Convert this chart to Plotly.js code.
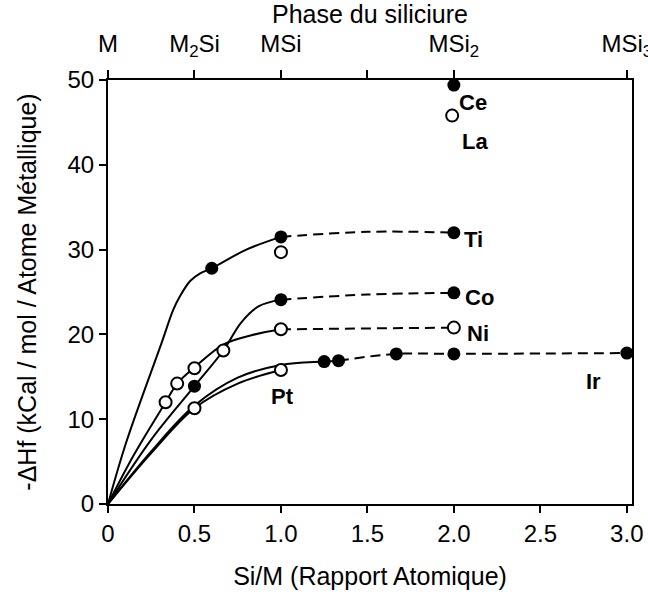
<!DOCTYPE html>
<html><head><meta charset="utf-8">
<script src="https://cdn.plot.ly/plotly-3.0.1.min.js"></script>
<style>html,body{margin:0;padding:0;background:#fff}#chart{width:648px;height:594px}</style>
</head><body><div id="chart"></div>
<script>
// ---- measured points ----
const tiX = [0.6, 1.0, 2.0];            const tiY = [27.8, 31.5, 32.0];
const tiOpenX = [1.0];                  const tiOpenY = [29.7];
const coX = [0.5, 1.0, 2.0];            const coY = [13.9, 24.1, 24.9];
const niX = [0.333, 0.4, 0.5, 0.667, 1.0, 2.0]; const niY = [12.0, 14.2, 16.0, 18.1, 20.6, 20.8];
const ptX = [0.5, 1.0];                 const ptY = [11.3, 15.8];
const irX = [1.25, 1.333, 1.667, 2.0, 3.0]; const irY = [16.8, 16.9, 17.7, 17.7, 17.8];
const ceX = [2.0];                      const ceY = [49.4];
const laX = [1.99];                     const laY = [45.8];

// ---- hand-drawn guide curves (vertices) ----
const tiCurveX = [0, 0.105, 0.31, 0.377, 0.416, 0.475, 0.533, 0.6, 0.8, 1.0];
const tiCurveY = [0, 7.25, 19.0, 22.9, 24.5, 26.3, 27.2, 27.8, 30.0, 31.5];
const coCurveX = [0, 0.25, 0.5, 0.667, 0.77, 0.87, 1.0];
const coCurveY = [0, 7.6, 13.9, 18.1, 21.4, 23.3, 24.1];
const niCurveX = [0, 0.15, 0.333, 0.4, 0.5, 0.667, 0.83, 1.0];
const niCurveY = [0, 5.8, 12.0, 14.2, 16.1, 18.8, 19.9, 20.6];
const ptCurveX = [0, 0.25, 0.5, 0.75, 1.0];
const ptCurveY = [0, 6.0, 11.3, 14.2, 15.8];
const irCurveX = [0, 0.25, 0.5, 0.75, 1.0, 1.25, 1.333];
const irCurveY = [0, 6.2, 11.6, 14.9, 16.4, 16.8, 16.9];

const tiDashX = [1.0, 1.5, 2.0];  const tiDashY = [31.5, 32.1, 32.0];
const coDashX = [1.0, 1.5, 2.0];  const coDashY = [24.1, 24.7, 24.9];
const niDashX = [1.0, 2.0];       const niDashY = [20.6, 20.8];
const irDashX = [1.333, 1.667, 2.0, 3.0]; const irDashY = [16.9, 17.7, 17.7, 17.8];

// ---- labels ----
const labelText = ['Ce', 'La', 'Ti', 'Co', 'Ni', 'Pt', 'Ir'];
const labelX = [2.11, 2.12, 2.115, 2.15, 2.14, 1.01, 2.81];
const labelY = [47.4, 42.8, 31.2, 24.3, 20.1, 12.7, 14.4];

const bottomTickVals = [0, 0.5, 1, 1.5, 2, 2.5, 3];
const bottomTickText = ['0', '0.5', '1.0', '1.5', '2.0', '2.5', '3.0'];
const topTickVals = [0, 0.5, 1, 1.5, 2, 3];
const topTickText = ['M', 'M<sub>2</sub>Si', 'MSi', '', 'MSi<sub>2</sub>', 'MSi<sub>3</sub>'];

const FONT = 'Liberation Sans, Arial, Helvetica, sans-serif';
const solid = {color: '#000', width: 2, shape: 'spline', smoothing: 1};
const dashed = {color: '#000', width: 2, shape: 'spline', smoothing: 1, dash: '10px,6px'};
const filled = {size: 13, color: '#000', line: {color: '#000', width: 0}};
const open = {size: 12, color: '#fff', line: {color: '#000', width: 2}};

function line(x, y, l) { return {x, y, mode: 'lines', line: l, hoverinfo: 'skip', showlegend: false}; }
function pts(x, y, m) { return {x, y, mode: 'markers', marker: m, cliponaxis: false, hoverinfo: 'skip', showlegend: false}; }

const data = [
  line(tiCurveX, tiCurveY, solid), line(coCurveX, coCurveY, solid), line(niCurveX, niCurveY, solid),
  line(ptCurveX, ptCurveY, solid), line(irCurveX, irCurveY, solid),
  line(tiDashX, tiDashY, dashed), line(coDashX, coDashY, dashed), line(niDashX, niDashY, dashed),
  line(irDashX, irDashY, dashed),
  pts(tiX, tiY, filled), pts(coX, coY, filled), pts(irX, irY, filled), pts(ceX, ceY, filled),
  pts(niX, niY, open), pts(ptX, ptY, open), pts(laX, laY, open), pts(tiOpenX, tiOpenY, open),
  {x: [0, 3], y: [0, 0], xaxis: 'x2', mode: 'lines', line: {width: 0}, opacity: 0, hoverinfo: 'skip', showlegend: false}
];

const annotations = labelText.map((t, i) => ({
  x: labelX[i], y: labelY[i], xref: 'x', yref: 'y', text: '<b>' + t + '</b>', showarrow: false,
  font: {family: FONT, size: 22, color: '#000'}, xanchor: 'center', yanchor: 'middle'
}));

const axisCommon = {
  showgrid: false, zeroline: false, showline: true, linecolor: '#000', linewidth: 2,
  ticks: 'outside', tickcolor: '#000', tickwidth: 2, ticklen: 7,
  tickfont: {family: FONT, size: 24, color: '#000'}, ticklabeloverflow: 'allow'
};

const layout = {
  width: 648, height: 594,
  margin: {l: 108, r: 16, t: 80, b: 90},
  paper_bgcolor: '#fff', plot_bgcolor: '#fff',
  font: {family: FONT, color: '#000'},
  xaxis: Object.assign({}, axisCommon, {
    range: [0, 3.03], tickmode: 'array', tickvals: bottomTickVals, ticktext: bottomTickText,
    title: {text: 'Si/M (Rapport Atomique)', font: {family: FONT, size: 25}, standoff: 22}
  }),
  xaxis2: Object.assign({}, axisCommon, {
    overlaying: 'x', side: 'top', range: [0, 3.03], tickmode: 'array',
    tickvals: topTickVals, ticktext: topTickText, ticklen: 8, ticklabelstandoff: 8,
    title: {text: 'Phase du siliciure', font: {family: FONT, size: 25}, standoff: 0}
  }),
  yaxis: Object.assign({}, axisCommon, {
    range: [0, 50], tickmode: 'array', tickvals: [0, 10, 20, 30, 40, 50], mirror: true,
    title: {text: '-ΔHf (kCal / mol / Atome Métallique)', font: {family: FONT, size: 25}, standoff: 24}
  }),
  annotations
};

Plotly.newPlot('chart', data, layout, {displayModeBar: false, staticPlot: true});
</script></body></html>
